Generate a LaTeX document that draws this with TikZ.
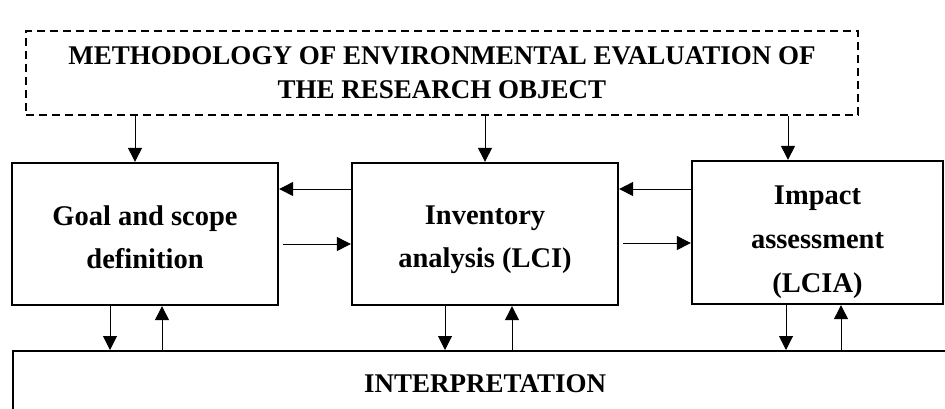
\documentclass[tikz,border=0pt]{standalone}
\usepackage{fontspec}
\setmainfont{Liberation Serif}
\usetikzlibrary{arrows.meta}
\begin{document}
\begin{tikzpicture}[x=1pt,y=-1pt,
  box/.style={draw,line width=2.3pt,rectangle,inner sep=0pt},
  txt/.style={align=center,inner sep=0pt,font=\fontsize{28.5}{43}\selectfont\bfseries},
  arr/.style={line width=1pt,-{Triangle[length=14pt,width=14pt]}},
  dashbox/.style={draw,line width=2.3pt,dash pattern=on 8pt off 5pt,rectangle,align=center,inner sep=0pt,
    font=\fontsize{27}{34}\selectfont\bfseries}]
\useasboundingbox (0,0) rectangle (945,408);
\clip (0,0) rectangle (945,408);
\node[dashbox,minimum width=832pt,minimum height=84pt] (meth) at (442,73)
  {METHODOLOGY OF ENVIRONMENTAL EVALUATION OF\\THE RESEARCH OBJECT};
\node[box,minimum width=266pt,minimum height=142pt] (b1) at (145,234) {};
\node[box,minimum width=266pt,minimum height=142pt] (b2) at (485,234) {};
\node[box,minimum width=251pt,minimum height=143pt] (b3) at (817.5,232.5) {};
\node[txt] (t1) at ([yshift=-3pt]b1.center) {Goal and scope\\definition};
\node[txt] (t2) at ([yshift=-6pt]b2.center) {Inventory\\analysis (LCI)};
\node[txt,font=\fontsize{28.5}{44}\selectfont\bfseries] (t3) at ([yshift=-10pt]b3.center) {Impact\\assessment\\(LCIA)};
\node[box,minimum width=944pt,minimum height=66pt,anchor=north west,
  font=\fontsize{27}{30}\selectfont\bfseries] (int) at (12,350) {INTERPRETATION};
% top arrows
\draw[arr] (meth.south -| 135,0) -- (b1.north -| 135,0);
\draw[arr] (meth.south -| 485,0) -- (b2.north -| 485,0);
\draw[arr] (meth.south -| 788,0) -- (b3.north -| 788,0);
% horizontal arrows
\draw[arr] (b2.west |- 0,189) -- (b1.east |- 0,189);
\draw[arr] ([xshift=4pt]b1.east |- 0,244) -- (b2.west |- 0,244);
\draw[arr] (b3.west |- 0,189) -- (b2.east |- 0,189);
\draw[arr] ([xshift=4pt]b2.east |- 0,243) -- (b3.west |- 0,243);
% bottom arrows
\draw[arr] (b1.south -| 110,0) -- (int.north -| 110,0);
\draw[arr] (int.north -| 162,0) -- (b1.south -| 162,0);
\draw[arr] (b2.south -| 445,0) -- (int.north -| 445,0);
\draw[arr] (int.north -| 512,0) -- (b2.south -| 512,0);
\draw[arr] (b3.south -| 786,0) -- (int.north -| 786,0);
\draw[arr] (int.north -| 841,0) -- (b3.south -| 841,0);
\end{tikzpicture}
\end{document}
